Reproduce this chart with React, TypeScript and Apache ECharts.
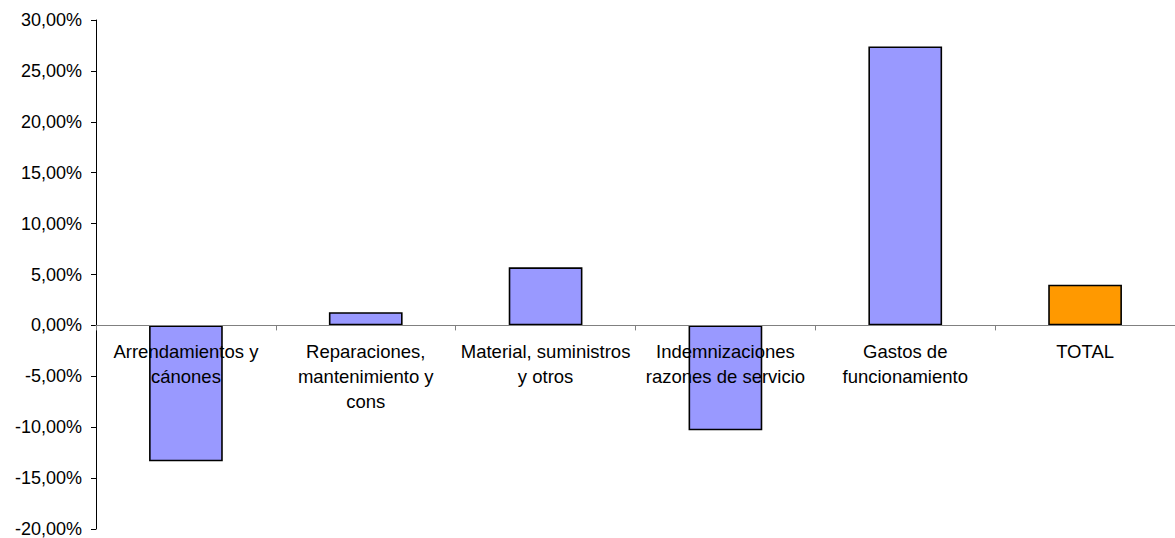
import React, { useEffect, useRef } from "react";
import * as echarts from "echarts";

const categories = [
  "Arrendamientos y\ncánones",
  "Reparaciones,\nmantenimiento y\ncons",
  "Material, suministros\ny otros",
  "Indemnizaciones\nrazones de servicio",
  "Gastos de\nfuncionamiento",
  "TOTAL",
];
const values = [-13.35, 1.3, 5.7, -10.3, 27.4, 4.0];
const barColors = ["#9999FF", "#9999FF", "#9999FF", "#9999FF", "#9999FF", "#FF9900"];
const yMin = -20;
const yMax = 30;
const yStep = 5;

const W = 1175;
const H = 538;
const gridTop = 20;
const gridBottom = 9;

export default function App() {
  const ref = useRef<HTMLDivElement>(null);
  useEffect(() => {
    if (!ref.current) return;
    const chart = echarts.init(ref.current, undefined, { renderer: "svg" });
    const plotH = H - gridTop - gridBottom;
    const zeroFromBottom = ((0 - yMin) / (yMax - yMin)) * plotH;
    chart.setOption({
      animation: false,
      backgroundColor: "#ffffff",
      grid: {
        left: 96,
        right: 0,
        top: gridTop,
        bottom: gridBottom,
        containLabel: false,
        outerBoundsMode: "none",
      },
      xAxis: {
        type: "category",
        data: categories,
        z: 5,
        position: "bottom",
        offset: -zeroFromBottom,
        axisLine: { onZero: false, lineStyle: { color: "#808080", width: 1 } },
        axisTick: { show: true, length: 5, lineStyle: { color: "#808080" } },
        axisLabel: {
          interval: 0,
          margin: 14,
          color: "#000",
          fontFamily: "Liberation Sans, Arial, sans-serif",
          fontSize: 18.5,
          lineHeight: 25,
        },
        splitLine: { show: false },
      },
      yAxis: {
        type: "value",
        min: yMin,
        max: yMax,
        interval: yStep,
        axisLine: { show: true, lineStyle: { color: "#000", width: 1 } },
        axisTick: { show: true, length: 5, lineStyle: { color: "#000" } },
        axisLabel: {
          margin: 14,
          color: "#000",
          fontFamily: "Liberation Sans, Arial, sans-serif",
          fontSize: 18,
          formatter: (v: number) => v.toFixed(2).replace(".", ",") + "%",
        },
        splitLine: { show: false },
      },
      series: [
        {
          type: "bar",
          barWidth: "41%",
          data: values.map((v, i) => ({
            value: v,
            itemStyle: { color: barColors[i], borderColor: "#000", borderWidth: 1.6 },
          })),
        },
      ],
    });
    return () => chart.dispose();
  }, []);
  return (
    <div
      ref={ref}
      style={{ position: "absolute", left: 0, top: 0, width: W, height: H }}
    />
  );
}
